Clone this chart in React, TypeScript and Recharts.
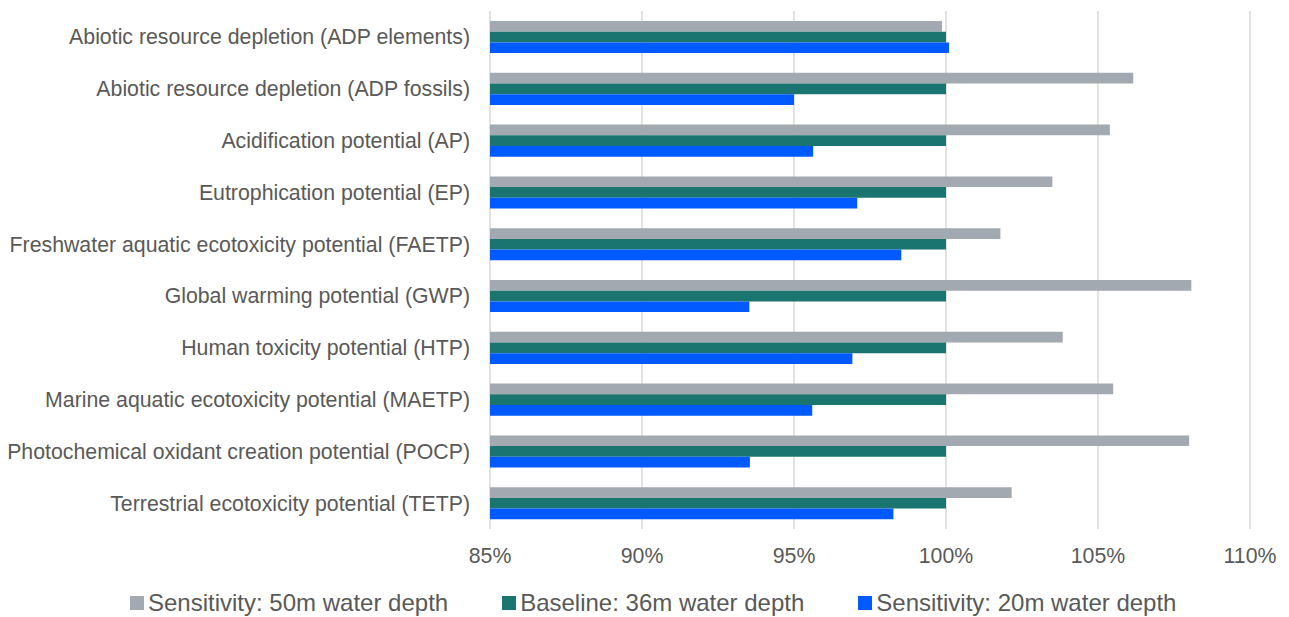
import { Bar, BarChart, CartesianGrid, Legend, XAxis, YAxis } from "recharts";

const categories = [
  "Abiotic resource depletion (ADP elements)",
  "Abiotic resource depletion (ADP fossils)",
  "Acidification potential (AP)",
  "Eutrophication potential (EP)",
  "Freshwater aquatic ecotoxicity potential (FAETP)",
  "Global warming potential (GWP)",
  "Human toxicity potential (HTP)",
  "Marine aquatic ecotoxicity potential (MAETP)",
  "Photochemical oxidant creation potential (POCP)",
  "Terrestrial ecotoxicity potential (TETP)",
];

// percent of baseline
const depth50 = [99.87, 106.16, 105.39, 103.5, 101.79, 108.07, 103.84, 105.5, 108.0, 102.16];
const depth36 = [100, 100, 100, 100, 100, 100, 100, 100, 100, 100];
const depth20 = [100.1, 95.0, 95.63, 97.08, 98.53, 93.53, 96.92, 95.6, 93.55, 98.27];

const xTicks = [85, 90, 95, 100, 105, 110];

const series = [
  { key: "d50", name: "Sensitivity: 50m water depth", color: "#a3a9b0" },
  { key: "d36", name: "Baseline: 36m water depth", color: "#1a7570" },
  { key: "d20", name: "Sensitivity: 20m water depth", color: "#005aff" },
];

const data = categories.map((name, i) => ({
  name,
  d50: depth50[i],
  d36: depth36[i],
  d20: depth20[i],
}));

const FONT = "'Liberation Sans', Arial, sans-serif";
const TEXT = "#595959";

function LegendRow() {
  return (
    <div
      style={{
        height: 40,
        paddingTop: 12,
        boxSizing: "border-box",
        display: "flex",
        alignItems: "center",
        paddingLeft: 130,
        gap: 54,
        fontFamily: FONT,
        fontSize: 24,
        color: TEXT,
      }}
    >
      {series.map((s) => (
        <div key={s.key} style={{ display: "flex", alignItems: "center" }}>
          <span
            style={{
              width: 14,
              height: 14,
              background: s.color,
              marginRight: 4,
              display: "inline-block",
            }}
          />
          <span style={{ whiteSpace: "nowrap" }}>{s.name}</span>
        </div>
      ))}
    </div>
  );
}

export default function App() {
  return (
    <div style={{ position: "absolute", left: 0, top: 0, background: "#fff" }}>
      <BarChart
        width={1289}
        height={617}
        data={data}
        layout="vertical"
        margin={{ top: 11, right: 39, left: 0, bottom: 0 }}
        barGap={0}
        barSize={10.7}
      >
        <CartesianGrid horizontal={false} stroke="#d9d9d9" strokeWidth={1.5} />
        <XAxis
          type="number"
          domain={[85, 110]}
          ticks={xTicks}
          tickFormatter={(v) => `${v}%`}
          axisLine={false}
          tickLine={false}
          tickSize={0}
          tickMargin={19}
          height={48}
          interval={0}
          tick={{ fontSize: 21.3, fill: TEXT, fontFamily: FONT }}
        />
        <YAxis
          type="category"
          dataKey="name"
          width={490}
          axisLine={false}
          tickLine={false}
          tickSize={0}
          tickMargin={20}
          interval={0}
          tick={{ fontSize: 21.3, fill: TEXT, fontFamily: FONT }}
        />
        <Legend verticalAlign="bottom" content={() => <LegendRow />} />
        {series.map((s) => (
          <Bar
            key={s.key}
            dataKey={s.key}
            name={s.name}
            fill={s.color}
            isAnimationActive={false}
          />
        ))}
      </BarChart>
    </div>
  );
}
